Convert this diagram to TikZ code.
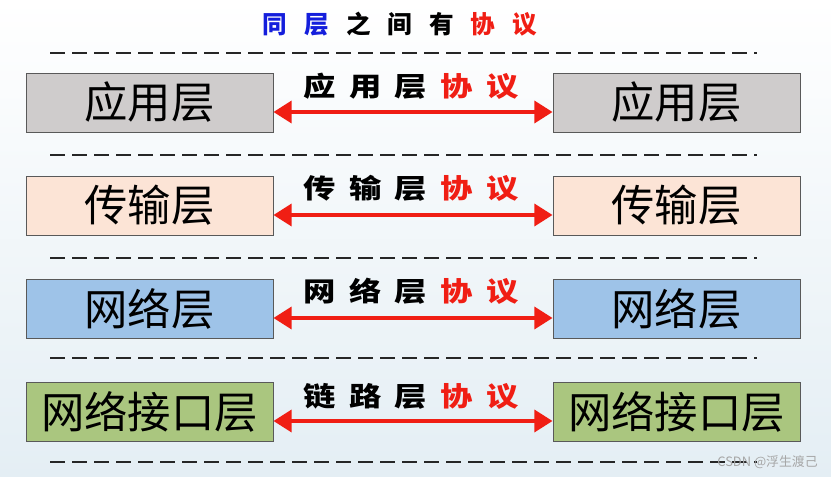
\documentclass[tikz,border=0pt]{standalone}
\usepackage{xcolor}
\usepackage{tikz}
\usepackage{fontspec}
\newfontfamily\cjk{Noto Sans CJK SC}
\usetikzlibrary{arrows.meta, positioning}
\definecolor{layergray}{RGB}{207, 204, 204}
\definecolor{layerpeach}{RGB}{252, 228, 214}
\definecolor{layerblue}{RGB}{158, 195, 232}
\definecolor{layergreen}{RGB}{170, 198, 127}
\definecolor{protored}{RGB}{240, 30, 20}
\definecolor{titleblue}{RGB}{20, 30, 220}
\definecolor{bgblue}{RGB}{228, 238, 244}

\begin{document}
\begin{tikzpicture}[
    x=0.03cm, y=-0.03cm,
    layer/.style={rectangle, draw=black!65, fill=#1, line width=0.6pt, minimum width=7.41cm, minimum height=1.77cm, inner sep=0pt, font=\cjk\fontsize{37}{37}\selectfont},
    proto/.style={font=\cjk\bfseries\fontsize{23}{23}\selectfont\addfontfeature{FakeStretch=1.2, LetterSpace=50}, inner sep=0pt},
    arr/.style={{Triangle[length=5.5mm, width=6.5mm]}-{Triangle[length=5.5mm, width=6.5mm]}, line width=4.2pt, color=protored},
    sep/.style={line width=2.2pt, color=black!85, dash pattern=on 0.46cm off 0.2cm}
]

% Background
\useasboundingbox (0,0) rectangle (831,477);
\fill[top color=white, bottom color=bgblue] (0,0) rectangle (831,477);

% Title
\node[font=\cjk\bfseries\fontsize{21}{21}\selectfont\addfontfeature{LetterSpace=69}, inner sep=0pt] (title) at (400,24) {\textcolor{titleblue}{同层}\kern0.69em 之间有\kern0.69em\textcolor{protored}{协议}};

% Dashed separators
\foreach \y in {53, 155, 258, 358, 462}
    \draw[sep] (50,\y) -- (757,\y);

% Layers on both hosts
\foreach \i/\y/\col/\name/\proto/\ly in {1/102.5/layergray/应用层/应用层/86,
                                         2/205.5/layerpeach/传输层/传输层/188,
                                         3/308.5/layerblue/网络层/网络层/291,
                                         4/411.5/layergreen/网络接口层/链路层/396} {
    \node[layer=\col] (l\i) at (149.5,\y) {\name};
    \node[layer=\col] (r\i) at (676.5,\y) {\name};
    \node[proto] (p\i) at (411,\ly) {\proto\kern0.5em\textcolor{protored}{协议}};
    \draw[arr] ([yshift=-0.285cm]l\i.east) -- ([yshift=-0.285cm]r\i.west);
}

% Watermark
\node[font=\cjk\fontsize{11}{11}\selectfont, color=black!35, anchor=east, inner sep=0pt] (mark) at (818,462) {CSDN @浮生渡己};

\end{tikzpicture}
\end{document}
